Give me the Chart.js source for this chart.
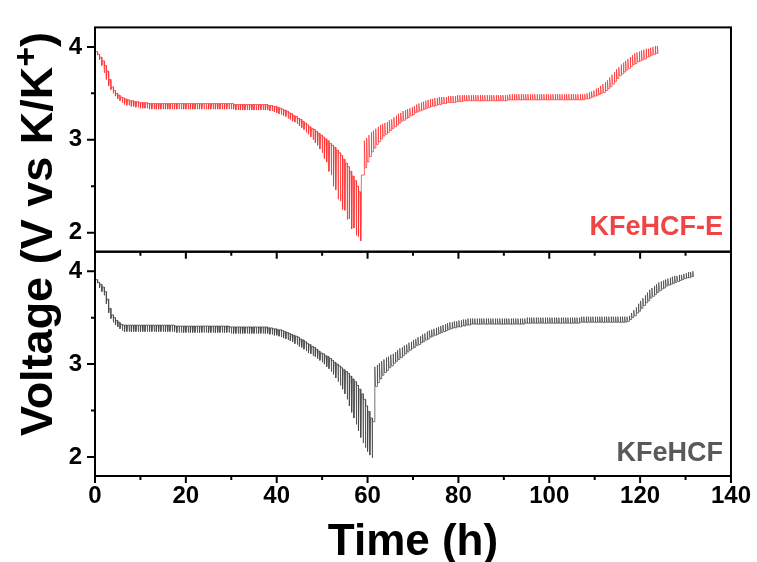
<!DOCTYPE html>
<html>
<head>
<meta charset="utf-8">
<script src="https://cdn.jsdelivr.net/npm/chart.js@4.4.0/dist/chart.umd.min.js"></script>
<style>
  html, body { margin: 0; padding: 0; background: #fff; }
  #wrap { width: 757px; height: 562px; position: relative; }
</style>
</head>
<body>
<div id="wrap"><canvas id="gitt"></canvas></div>
<script>
// --- Axis ticks ---
const xMajor = [0, 20, 40, 60, 80, 100, 120, 140];
const xMinor = [10, 30, 50, 70, 90, 110, 130];
const yMajor = [2, 3, 4];
const yMinor = [2.5, 3.5];

// GITT step: time (h) from pulse start until the cell has relaxed again
const relaxTime = 0.15;

// --- KFeHCF-E (top panel): pulse times (h), relaxed voltage, end-of-pulse voltage ---
const redTime = [
  0, 0.5, 1, 1.5, 2, 2.5, 3, 3.5, 4, 4.5,
  5, 5.5, 6, 6.5, 7, 7.5, 8, 8.5, 9, 9.5,
  10, 10.5, 11, 11.5, 12, 12.5, 13, 13.5, 14, 14.5,
  15, 15.5, 16, 16.5, 17, 17.5, 18, 18.5, 19, 19.5,
  20, 20.5, 21, 21.5, 22, 22.5, 23, 23.5, 24, 24.5,
  25, 25.5, 26, 26.5, 27, 27.5, 28, 28.5, 29, 29.5,
  30, 30.5, 31, 31.5, 32, 32.5, 33, 33.5, 34, 34.5,
  35, 35.5, 36, 36.5, 37, 37.5, 38, 38.5, 39, 39.5,
  40, 40.5, 41, 41.5, 42, 42.5, 43, 43.5, 44, 44.5,
  45, 45.5, 46, 46.5, 47, 47.5, 48, 48.5, 49, 49.5,
  50, 50.5, 51, 51.5, 52, 52.5, 53, 53.5, 54, 54.5,
  55, 55.5, 56, 56.5, 57, 57.5, 58, 58.5,
  59.3, 59.8, 60.3, 60.8, 61.3, 61.8, 62.3, 62.8, 63.3, 63.8,
  64.3, 64.8, 65.3, 65.8, 66.3, 66.8, 67.3, 67.8, 68.3, 68.8,
  69.3, 69.8, 70.3, 70.8, 71.3, 71.8, 72.3, 72.8, 73.3, 73.8,
  74.3, 74.8, 75.3, 75.8, 76.3, 76.8, 77.3, 77.8, 78.3, 78.8,
  79.3, 79.8, 80.3, 80.8, 81.3, 81.8, 82.3, 82.8, 83.3, 83.8,
  84.3, 84.8, 85.3, 85.8, 86.3, 86.8, 87.3, 87.8, 88.3, 88.8,
  89.3, 89.8, 90.3, 90.8, 91.3, 91.8, 92.3, 92.8, 93.3, 93.8,
  94.3, 94.8, 95.3, 95.8, 96.3, 96.8, 97.3, 97.8, 98.3, 98.8,
  99.3, 99.8, 100.3, 100.8, 101.3, 101.8, 102.3, 102.8, 103.3, 103.8,
  104.3, 104.8, 105.3, 105.8, 106.3, 106.8, 107.3, 107.8, 108.3, 108.8,
  109.3, 109.8, 110.3, 110.8, 111.3, 111.8, 112.3, 112.8, 113.3, 113.8,
  114.3, 114.8, 115.3, 115.8, 116.3, 116.8, 117.3, 117.8, 118.3, 118.8,
  119.3, 119.8, 120.3, 120.8, 121.3, 121.8, 122.3, 122.8, 123.3, 123.8
];
const redRest = [
  3.97, 3.95, 3.92, 3.89, 3.85, 3.80, 3.74, 3.65, 3.57, 3.53,
  3.50, 3.48, 3.46, 3.45, 3.44, 3.43, 3.42, 3.42, 3.41, 3.41,
  3.40, 3.40, 3.40, 3.40, 3.39, 3.39, 3.39, 3.39, 3.39, 3.39,
  3.39, 3.39, 3.39, 3.39, 3.39, 3.39, 3.39, 3.39, 3.39, 3.39,
  3.39, 3.39, 3.39, 3.39, 3.39, 3.39, 3.39, 3.39, 3.39, 3.39,
  3.39, 3.39, 3.39, 3.39, 3.39, 3.39, 3.39, 3.39, 3.39, 3.39,
  3.39, 3.39, 3.38, 3.38, 3.38, 3.38, 3.38, 3.38, 3.38, 3.38,
  3.38, 3.38, 3.38, 3.38, 3.38, 3.38, 3.38, 3.37, 3.37, 3.36,
  3.36, 3.35, 3.34, 3.33, 3.32, 3.31, 3.29, 3.28, 3.26, 3.25,
  3.23, 3.22, 3.20, 3.18, 3.16, 3.14, 3.12, 3.11, 3.09, 3.07,
  3.05, 3.03, 3.01, 2.99, 2.96, 2.94, 2.92, 2.89, 2.86, 2.83,
  2.79, 2.75, 2.71, 2.66, 2.61, 2.56, 2.50, 2.44,
  2.62, 2.70, 2.76, 2.82, 2.87, 2.91, 2.95, 2.98, 3.01, 3.04,
  3.06, 3.08, 3.10, 3.12, 3.14, 3.16, 3.18, 3.20, 3.21, 3.23,
  3.24, 3.26, 3.27, 3.29, 3.30, 3.31, 3.32, 3.33, 3.34, 3.35,
  3.36, 3.36, 3.37, 3.38, 3.38, 3.39, 3.39, 3.40, 3.40, 3.40,
  3.40, 3.41, 3.41, 3.41, 3.42, 3.42, 3.42, 3.42, 3.42, 3.42,
  3.42, 3.42, 3.42, 3.42, 3.42, 3.42, 3.42, 3.42, 3.42, 3.42,
  3.42, 3.42, 3.42, 3.42, 3.43, 3.43, 3.43, 3.43, 3.43, 3.43,
  3.43, 3.43, 3.43, 3.43, 3.43, 3.43, 3.43, 3.43, 3.43, 3.43,
  3.43, 3.43, 3.43, 3.43, 3.43, 3.43, 3.43, 3.43, 3.43, 3.43,
  3.43, 3.43, 3.43, 3.43, 3.43, 3.43, 3.43, 3.43, 3.44, 3.44,
  3.45, 3.46, 3.47, 3.48, 3.49, 3.50, 3.51, 3.53, 3.55, 3.57,
  3.60, 3.63, 3.66, 3.69, 3.71, 3.73, 3.75, 3.77, 3.79, 3.81,
  3.82, 3.84, 3.85, 3.86, 3.87, 3.89, 3.90, 3.91, 3.92, 3.93
];
const redPulse = [
  3.94, 3.91, 3.86, 3.80, 3.72, 3.65, 3.58, 3.54, 3.50, 3.47,
  3.44, 3.42, 3.40, 3.38, 3.37, 3.37, 3.36, 3.36, 3.35, 3.35,
  3.34, 3.34, 3.34, 3.34, 3.33, 3.33, 3.33, 3.33, 3.33, 3.33,
  3.33, 3.33, 3.33, 3.33, 3.33, 3.33, 3.33, 3.33, 3.33, 3.33,
  3.33, 3.33, 3.33, 3.33, 3.33, 3.33, 3.33, 3.33, 3.33, 3.33,
  3.33, 3.33, 3.33, 3.33, 3.33, 3.33, 3.33, 3.33, 3.33, 3.33,
  3.33, 3.33, 3.32, 3.32, 3.32, 3.32, 3.32, 3.32, 3.32, 3.32,
  3.32, 3.32, 3.32, 3.32, 3.32, 3.32, 3.32, 3.31, 3.31, 3.30,
  3.29, 3.28, 3.27, 3.26, 3.25, 3.23, 3.22, 3.20, 3.19, 3.17,
  3.15, 3.13, 3.11, 3.08, 3.06, 3.03, 3.00, 2.97, 2.94, 2.90,
  2.86, 2.80, 2.76, 2.66, 2.62, 2.50, 2.46, 2.36, 2.34, 2.25,
  2.24, 2.14, 2.15, 2.04, 2.05, 1.97, 1.96, 1.91,
  2.99, 3.02, 3.05, 3.08, 3.10, 3.12, 3.14, 3.16, 3.17, 3.18,
  3.19, 3.21, 3.22, 3.24, 3.26, 3.28, 3.29, 3.31, 3.32, 3.33,
  3.34, 3.35, 3.36, 3.38, 3.39, 3.40, 3.41, 3.42, 3.43, 3.44,
  3.44, 3.45, 3.45, 3.46, 3.46, 3.46, 3.46, 3.47, 3.47, 3.47,
  3.47, 3.48, 3.48, 3.48, 3.48, 3.48, 3.48, 3.48, 3.48, 3.48,
  3.48, 3.48, 3.48, 3.48, 3.48, 3.48, 3.48, 3.48, 3.48, 3.48,
  3.48, 3.48, 3.48, 3.48, 3.49, 3.49, 3.49, 3.49, 3.49, 3.49,
  3.49, 3.49, 3.49, 3.49, 3.49, 3.49, 3.49, 3.49, 3.49, 3.49,
  3.49, 3.49, 3.49, 3.49, 3.49, 3.49, 3.49, 3.49, 3.49, 3.49,
  3.49, 3.49, 3.49, 3.49, 3.49, 3.49, 3.49, 3.49, 3.50, 3.51,
  3.52, 3.53, 3.55, 3.56, 3.58, 3.60, 3.62, 3.64, 3.67, 3.70,
  3.73, 3.76, 3.78, 3.81, 3.83, 3.85, 3.87, 3.89, 3.91, 3.93,
  3.94, 3.95, 3.96, 3.97, 3.98, 3.98, 3.99, 4.00, 4.01, 4.01
];

// --- KFeHCF (bottom panel) ---
const blackTime = [
  0, 0.5, 1, 1.5, 2, 2.5, 3, 3.5, 4, 4.5,
  5, 5.5, 6, 6.5, 7, 7.5, 8, 8.5, 9, 9.5,
  10, 10.5, 11, 11.5, 12, 12.5, 13, 13.5, 14, 14.5,
  15, 15.5, 16, 16.5, 17, 17.5, 18, 18.5, 19, 19.5,
  20, 20.5, 21, 21.5, 22, 22.5, 23, 23.5, 24, 24.5,
  25, 25.5, 26, 26.5, 27, 27.5, 28, 28.5, 29, 29.5,
  30, 30.5, 31, 31.5, 32, 32.5, 33, 33.5, 34, 34.5,
  35, 35.5, 36, 36.5, 37, 37.5, 38, 38.5, 39, 39.5,
  40, 40.5, 41, 41.5, 42, 42.5, 43, 43.5, 44, 44.5,
  45, 45.5, 46, 46.5, 47, 47.5, 48, 48.5, 49, 49.5,
  50, 50.5, 51, 51.5, 52, 52.5, 53, 53.5, 54, 54.5,
  55, 55.5, 56, 56.5, 57, 57.5, 58, 58.5, 59, 59.5,
  60, 60.5, 61,
  61.6, 62.1, 62.6, 63.1, 63.6, 64.1, 64.6, 65.1, 65.6, 66.1,
  66.6, 67.1, 67.6, 68.1, 68.6, 69.1, 69.6, 70.1, 70.6, 71.1,
  71.6, 72.1, 72.6, 73.1, 73.6, 74.1, 74.6, 75.1, 75.6, 76.1,
  76.6, 77.1, 77.6, 78.1, 78.6, 79.1, 79.6, 80.1, 80.6, 81.1,
  81.6, 82.1, 82.6, 83.1, 83.6, 84.1, 84.6, 85.1, 85.6, 86.1,
  86.6, 87.1, 87.6, 88.1, 88.6, 89.1, 89.6, 90.1, 90.6, 91.1,
  91.6, 92.1, 92.6, 93.1, 93.6, 94.1, 94.6, 95.1, 95.6, 96.1,
  96.6, 97.1, 97.6, 98.1, 98.6, 99.1, 99.6, 100.1, 100.6, 101.1,
  101.6, 102.1, 102.6, 103.1, 103.6, 104.1, 104.6, 105.1, 105.6, 106.1,
  106.6, 107.1, 107.6, 108.1, 108.6, 109.1, 109.6, 110.1, 110.6, 111.1,
  111.6, 112.1, 112.6, 113.1, 113.6, 114.1, 114.6, 115.1, 115.6, 116.1,
  116.6, 117.1, 117.6, 118.1, 118.6, 119.1, 119.6, 120.1, 120.6, 121.1,
  121.6, 122.1, 122.6, 123.1, 123.6, 124.1, 124.6, 125.1, 125.6, 126.1,
  126.6, 127.1, 127.6, 128.1, 128.6, 129.1, 129.6, 130.1, 130.6, 131.1,
  131.6
];
const blackRest = [
  3.93, 3.91, 3.88, 3.86, 3.83, 3.78, 3.70, 3.60, 3.53, 3.50,
  3.47, 3.45, 3.43, 3.42, 3.42, 3.42, 3.42, 3.42, 3.42, 3.42,
  3.42, 3.42, 3.42, 3.42, 3.42, 3.42, 3.42, 3.42, 3.42, 3.42,
  3.42, 3.42, 3.42, 3.42, 3.42, 3.42, 3.41, 3.41, 3.41, 3.41,
  3.41, 3.41, 3.41, 3.41, 3.41, 3.41, 3.41, 3.41, 3.41, 3.41,
  3.41, 3.41, 3.41, 3.41, 3.41, 3.41, 3.41, 3.41, 3.41, 3.41,
  3.40, 3.40, 3.40, 3.40, 3.40, 3.40, 3.40, 3.40, 3.40, 3.40,
  3.40, 3.40, 3.40, 3.40, 3.40, 3.40, 3.40, 3.39, 3.39, 3.38,
  3.38, 3.37, 3.37, 3.36, 3.35, 3.34, 3.33, 3.32, 3.31, 3.30,
  3.29, 3.27, 3.26, 3.24, 3.22, 3.21, 3.19, 3.18, 3.16, 3.14,
  3.12, 3.11, 3.09, 3.08, 3.06, 3.04, 3.02, 3.00, 2.98, 2.96,
  2.94, 2.92, 2.90, 2.87, 2.84, 2.81, 2.77, 2.73, 2.68, 2.62,
  2.55, 2.49, 2.42,
  2.38, 2.76, 2.80, 2.84, 2.88, 2.91, 2.93, 2.96, 2.98, 3.01,
  3.03, 3.05, 3.07, 3.09, 3.11, 3.13, 3.15, 3.17, 3.18, 3.20,
  3.21, 3.23, 3.24, 3.26, 3.27, 3.29, 3.30, 3.31, 3.32, 3.33,
  3.34, 3.35, 3.36, 3.37, 3.38, 3.39, 3.39, 3.40, 3.40, 3.41,
  3.41, 3.42, 3.42, 3.43, 3.43, 3.43, 3.43, 3.43, 3.43, 3.43,
  3.43, 3.43, 3.43, 3.43, 3.43, 3.43, 3.43, 3.43, 3.43, 3.43,
  3.43, 3.43, 3.43, 3.43, 3.43, 3.43, 3.43, 3.44, 3.44, 3.44,
  3.44, 3.44, 3.44, 3.44, 3.44, 3.44, 3.44, 3.44, 3.44, 3.44,
  3.44, 3.44, 3.44, 3.44, 3.44, 3.44, 3.44, 3.44, 3.44, 3.44,
  3.44, 3.45, 3.45, 3.45, 3.45, 3.45, 3.45, 3.45, 3.45, 3.45,
  3.45, 3.45, 3.45, 3.45, 3.45, 3.45, 3.45, 3.45, 3.45, 3.45,
  3.45, 3.45, 3.46, 3.48, 3.50, 3.52, 3.55, 3.57, 3.60, 3.63,
  3.66, 3.68, 3.71, 3.73, 3.75, 3.77, 3.79, 3.81, 3.82, 3.84,
  3.85, 3.86, 3.87, 3.88, 3.89, 3.90, 3.91, 3.92, 3.93, 3.93,
  3.94
];
const blackPulse = [
  3.91, 3.87, 3.82, 3.78, 3.74, 3.65, 3.55, 3.49, 3.45, 3.42,
  3.40, 3.38, 3.36, 3.35, 3.35, 3.35, 3.35, 3.35, 3.35, 3.35,
  3.35, 3.35, 3.35, 3.35, 3.35, 3.35, 3.35, 3.35, 3.35, 3.35,
  3.35, 3.35, 3.35, 3.35, 3.35, 3.35, 3.34, 3.34, 3.34, 3.34,
  3.34, 3.34, 3.34, 3.34, 3.34, 3.34, 3.34, 3.34, 3.34, 3.34,
  3.34, 3.34, 3.34, 3.34, 3.34, 3.34, 3.34, 3.34, 3.34, 3.34,
  3.33, 3.33, 3.33, 3.33, 3.33, 3.33, 3.33, 3.33, 3.33, 3.33,
  3.33, 3.33, 3.33, 3.33, 3.33, 3.33, 3.33, 3.32, 3.32, 3.31,
  3.31, 3.30, 3.29, 3.28, 3.27, 3.26, 3.25, 3.24, 3.22, 3.21,
  3.19, 3.18, 3.16, 3.14, 3.12, 3.11, 3.09, 3.08, 3.06, 3.04,
  3.02, 3.00, 2.97, 2.95, 2.92, 2.89, 2.85, 2.81, 2.77, 2.73,
  2.68, 2.62, 2.55, 2.48, 2.42, 2.35, 2.28, 2.21, 2.15, 2.10,
  2.06, 2.02, 1.99,
  2.97, 2.99, 3.01, 3.03, 3.05, 3.07, 3.08, 3.10, 3.11, 3.13,
  3.15, 3.17, 3.18, 3.20, 3.21, 3.23, 3.24, 3.26, 3.27, 3.29,
  3.30, 3.32, 3.33, 3.35, 3.36, 3.37, 3.38, 3.39, 3.40, 3.41,
  3.42, 3.43, 3.44, 3.45, 3.45, 3.46, 3.46, 3.47, 3.47, 3.48,
  3.48, 3.49, 3.49, 3.49, 3.49, 3.49, 3.49, 3.49, 3.49, 3.49,
  3.49, 3.49, 3.49, 3.49, 3.49, 3.49, 3.49, 3.49, 3.49, 3.49,
  3.49, 3.49, 3.49, 3.49, 3.49, 3.49, 3.49, 3.50, 3.50, 3.50,
  3.50, 3.50, 3.50, 3.50, 3.50, 3.50, 3.50, 3.50, 3.50, 3.50,
  3.50, 3.50, 3.50, 3.50, 3.50, 3.50, 3.50, 3.50, 3.50, 3.50,
  3.50, 3.51, 3.51, 3.51, 3.51, 3.51, 3.51, 3.51, 3.51, 3.51,
  3.51, 3.51, 3.51, 3.51, 3.51, 3.51, 3.51, 3.51, 3.51, 3.51,
  3.51, 3.51, 3.52, 3.55, 3.58, 3.61, 3.65, 3.68, 3.71, 3.74,
  3.77, 3.80, 3.82, 3.84, 3.86, 3.88, 3.89, 3.90, 3.91, 3.92,
  3.93, 3.94, 3.95, 3.95, 3.96, 3.96, 3.97, 3.98, 3.99, 3.99,
  4.00
];

const FONT = "'Liberation Sans', Arial, sans-serif";

// each pulse: relaxed -> end of pulse -> relaxed again (next relaxed value), then rest
function comb(times, rest, pulse) {
  const pts = [];
  for (let i = 0; i < times.length; i++) {
    const next = i + 1 < rest.length ? rest[i + 1] : rest[i];
    pts.push({ x: times[i], y: rest[i] });
    pts.push({ x: times[i], y: pulse[i] });
    pts.push({ x: times[i] + relaxTime, y: next });
  }
  return pts;
}

// frames, outward ticks, panel labels and axis titles
const framePlugin = {
  id: 'frames',
  afterDraw(chart) {
    const ctx = chart.ctx;
    const x = chart.scales.x;
    const panels = [
      { s: chart.scales.yTop, label: 'KFeHCF-E', color: '#f04545', dy: 17 },
      { s: chart.scales.yBot, label: 'KFeHCF', color: '#595959', dy: 15 }
    ];
    ctx.save();
    ctx.strokeStyle = '#000';
    ctx.lineWidth = 2;
    panels.forEach(p => {
      const s = p.s;
      ctx.strokeRect(x.left, s.top, x.right - x.left, s.bottom - s.top);
      ctx.beginPath();
      yMajor.forEach(v => { const py = s.getPixelForValue(v); ctx.moveTo(x.left - 8, py); ctx.lineTo(x.left, py); });
      yMinor.forEach(v => { const py = s.getPixelForValue(v); ctx.moveTo(x.left - 4, py); ctx.lineTo(x.left, py); });
      xMajor.forEach(v => { const px = x.getPixelForValue(v); ctx.moveTo(px, s.bottom); ctx.lineTo(px, s.bottom + 7); });
      xMinor.forEach(v => { const px = x.getPixelForValue(v); ctx.moveTo(px, s.bottom); ctx.lineTo(px, s.bottom + 4); });
      ctx.stroke();

      ctx.fillStyle = p.color;
      ctx.font = 'bold 27px ' + FONT;
      ctx.textAlign = 'right';
      ctx.textBaseline = 'alphabetic';
      ctx.fillText(p.label, x.right - 8, s.bottom - p.dy);
    });

    // x title
    ctx.fillStyle = '#000';
    ctx.font = 'bold 44px ' + FONT;
    ctx.textAlign = 'center';
    ctx.fillText('Time (h)', (x.left + x.right) / 2, 555);

    // y title, rotated, with superscript +
    const main1 = 'Voltage (V vs K/K';
    const sup = '+';
    const main2 = ')';
    const big = 'bold 45px ' + FONT;
    const small = 'bold 34px ' + FONT;
    ctx.font = big;
    const w1 = ctx.measureText(main1).width;
    const w3 = ctx.measureText(main2).width;
    ctx.font = small;
    const w2 = ctx.measureText(sup).width;
    const total = w1 + w2 + w3;
    ctx.translate(52, 234);
    ctx.rotate(-Math.PI / 2);
    ctx.textAlign = 'left';
    let cx = -total / 2;
    ctx.font = big;
    ctx.fillText(main1, cx, 0);
    cx += w1;
    ctx.font = small;
    ctx.fillText(sup, cx, -15);
    cx += w2;
    ctx.font = big;
    ctx.fillText(main2, cx, 0);
    ctx.restore();
  }
};

const yScale = {
  type: 'linear',
  position: 'left',
  stack: 'volt',
  stackWeight: 1,
  min: 1.795,
  max: 4.21,
  grid: { display: false, drawTicks: false },
  border: { display: false },
  afterBuildTicks: s => { s.ticks = yMajor.map(v => ({ value: v })); },
  ticks: {
    autoSkip: false,
    padding: 13,
    color: '#000',
    font: { family: FONT, size: 24, weight: 'bold' }
  },
  afterFit: s => { s.width = 95; }
};

new Chart(document.getElementById('gitt'), {
  type: 'line',
  data: {
    datasets: [
      {
        label: 'KFeHCF-E',
        data: comb(redTime, redRest, redPulse),
        yAxisID: 'yTop',
        borderColor: 'rgba(255, 50, 50, 0.75)',
        borderWidth: 1,
        pointRadius: 0,
        tension: 0
      },
      {
        label: 'KFeHCF',
        data: comb(blackTime, blackRest, blackPulse),
        yAxisID: 'yBot',
        borderColor: 'rgba(70, 70, 70, 0.75)',
        borderWidth: 1,
        pointRadius: 0,
        tension: 0
      }
    ]
  },
  options: {
    responsive: true,
    maintainAspectRatio: false,
    animation: false,
    layout: { padding: { top: 15, right: 26, left: 0, bottom: 0 } },
    plugins: { legend: { display: false }, tooltip: { enabled: false } },
    scales: {
      x: {
        type: 'linear',
        min: 0,
        max: 140,
        grid: { display: false, drawTicks: false },
        border: { display: false },
        ticks: {
          stepSize: 20,
          padding: 6,
          maxRotation: 0,
          color: '#000',
          font: { family: FONT, size: 24, weight: 'bold' }
        },
        afterFit: s => { s.height = 86; }
      },
      yBot: Object.assign({}, yScale),
      yTop: Object.assign({}, yScale)
    }
  },
  plugins: [framePlugin]
});
</script>
</body>
</html>
